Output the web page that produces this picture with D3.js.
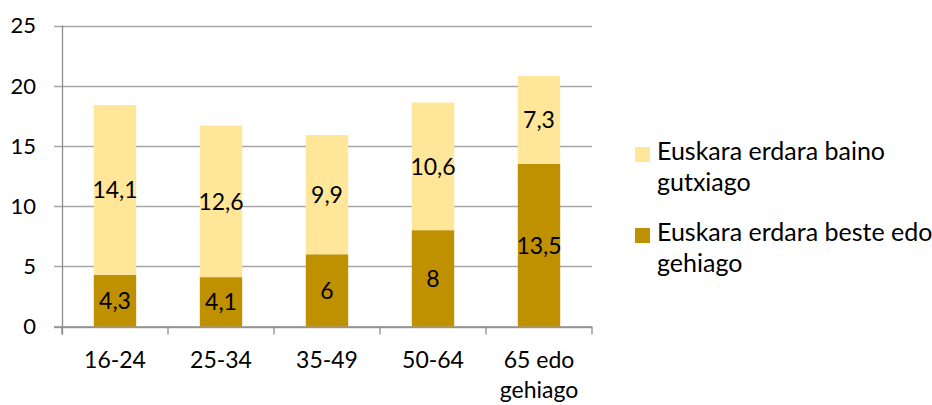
<!DOCTYPE html>
<html>
<head>
<meta charset="utf-8">
<script src="https://cdn.jsdelivr.net/npm/d3@7"></script>
<style>
  body { margin: 0; background: #fff; }
  text { font-family: Lato, "Open Sans", sans-serif; fill: #000; }
</style>
</head>
<body>
<div class="viz"></div>
<script>
const categories = [['16-24'], ['25-34'], ['35-49'], ['50-64'], ['65 edo', 'gehiago']];
const lowerValues = [4.3, 4.1, 6, 8, 13.5];   // Euskara erdara beste edo gehiago
const upperValues = [14.1, 12.6, 9.9, 10.6, 7.3]; // Euskara erdara baino gutxiago
const yTicks = [0, 5, 10, 15, 20, 25];
const seriesNames = [['Euskara erdara baino', 'gutxiago'], ['Euskara erdara beste edo', 'gehiago']];

const w = 932, h = 405;
const mLeft = 62, mRight = 592, mTop = 25.5, mBottom = 326.5;
const fmt = v => String(v).replace('.', ',');

const svg = d3.select('.viz').append('svg')
    .attr('width', w)
    .attr('height', h);

const x = d3.scaleBand().domain(d3.range(categories.length)).range([mLeft, mRight]).paddingInner(0.6).paddingOuter(0.3);
const y = d3.scaleLinear().domain([0, 25]).range([mBottom, mTop]);

// gridlines + y labels
svg.selectAll('.grid').data(yTicks).enter().append('line')
    .attr('x1', mLeft - 8).attr('x2', mRight)
    .attr('y1', d => Math.round(y(d)) + 0.5).attr('y2', d => Math.round(y(d)) + 0.5)
    .attr('stroke', '#a6a6a6').attr('stroke-width', 1.3);

svg.selectAll('.ylab').data(yTicks).enter().append('text')
    .attr('x', 36).attr('y', d => y(d))
    .attr('dy', '0.36em')
    .attr('text-anchor', 'end')
    .style('font-size', '22px')
    .text(d => d);

// y axis line
svg.append('line')
    .attr('x1', mLeft + 0.5).attr('x2', mLeft + 0.5)
    .attr('y1', mTop).attr('y2', mBottom + 8)
    .attr('stroke', '#8c8c8c').attr('stroke-width', 1.3);

// x ticks
const tickX = d3.range(categories.length + 1).map(i => mLeft + i * (mRight - mLeft) / categories.length);
svg.selectAll('.xtick').data(tickX).enter().append('line')
    .attr('x1', d => d).attr('x2', d => d)
    .attr('y1', mBottom).attr('y2', mBottom + 8)
    .attr('stroke', '#8c8c8c').attr('stroke-width', 1.3);

svg.append('line')
    .attr('x1', mLeft - 8).attr('x2', mRight)
    .attr('y1', mBottom + 0.5).attr('y2', mBottom + 0.5)
    .attr('stroke', '#8c8c8c').attr('stroke-width', 1.3);

// bars
const stacked = lowerValues.map((v, i) => ({ i, lo: v, hi: upperValues[i] }));

svg.selectAll('.lower').data(stacked).enter().append('rect')
    .attr('x', d => x(d.i)).attr('width', x.bandwidth())
    .attr('y', d => y(d.lo)).attr('height', d => y(0) - y(d.lo))
    .attr('fill', '#bf9000');

svg.selectAll('.upper').data(stacked).enter().append('rect')
    .attr('x', d => x(d.i)).attr('width', x.bandwidth())
    .attr('y', d => y(d.lo + d.hi)).attr('height', d => y(d.lo) - y(d.lo + d.hi))
    .attr('fill', '#ffe699');

// value labels
svg.selectAll('.lolab').data(stacked).enter().append('text')
    .attr('x', d => x(d.i) + x.bandwidth() / 2)
    .attr('y', d => y(d.lo / 2))
    .attr('dy', '0.36em').attr('text-anchor', 'middle')
    .style('font-size', '23px')
    .text(d => fmt(d.lo));

svg.selectAll('.hilab').data(stacked).enter().append('text')
    .attr('x', d => x(d.i) + x.bandwidth() / 2)
    .attr('y', d => y(d.lo + d.hi / 2))
    .attr('dy', '0.36em').attr('text-anchor', 'middle')
    .style('font-size', '23px')
    .text(d => fmt(d.hi));

// category labels
const cl = svg.selectAll('.xlab').data(categories).enter().append('text')
    .attr('text-anchor', 'middle')
    .style('font-size', '23px');
cl.each(function (lines, i) {
    d3.select(this).selectAll('tspan').data(lines).enter().append('tspan')
        .attr('x', x(i) + x.bandwidth() / 2)
        .attr('y', (d, j) => 368 + j * 30)
        .text(d => d);
});

// legend
const legColors = ['#ffe699', '#bf9000'];
const legY = [147, 228];
seriesNames.forEach((lines, k) => {
    svg.append('rect')
        .attr('x', 635).attr('y', legY[k])
        .attr('width', 15).attr('height', 15)
        .attr('fill', legColors[k]);
    svg.append('text').style('font-size', '25px')
        .selectAll('tspan').data(lines).enter().append('tspan')
        .attr('x', 657)
        .attr('y', (d, j) => legY[k] + 13 + j * 31)
        .text(d => d);
});
</script>
</body>
</html>
